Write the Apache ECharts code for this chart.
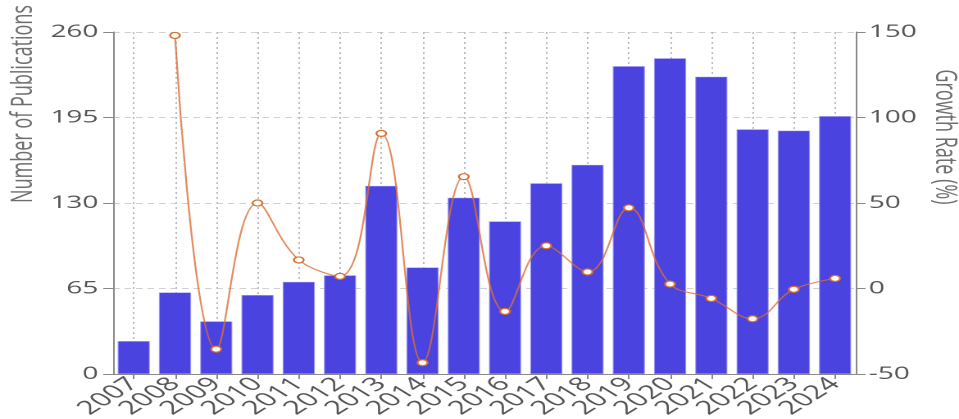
<!DOCTYPE html>
<html>
<head>
<meta charset="utf-8">
<script src="https://cdn.jsdelivr.net/npm/echarts@6/dist/echarts.min.js"></script>
<style>
html,body{margin:0;padding:0;background:#fff;overflow:hidden;}
#main{width:585px;height:419px;transform:scaleX(1.6393);transform-origin:0 0;}
</style>
</head>
<body>
<div id="main"></div>
<script>
const years = ['2007','2008','2009','2010','2011','2012','2013','2014','2015','2016','2017','2018','2019','2020','2021','2022','2023','2024'];
const publications = [25,62,40,60,70,75,143,81,134,116,145,159,234,240,226,186,185,196];
const growthRate = [null,148,-35.5,50,16.7,7.1,90.7,-43.4,65.4,-13.4,25,9.7,47.2,2.6,-5.8,-17.7,-0.5,5.9];
const leftTicks = {min:0,max:260,interval:65};
const rightTicks = {min:-50,max:150,interval:50};
const leftName = 'Number of Publications';
const rightName = 'Growth Rate (%)';

const FONT = '"Open Sans", "Noto Sans", sans-serif';
const chart = echarts.init(document.getElementById('main'), null, {renderer:'canvas', devicePixelRatio:2});
chart.setOption({
  animation:false,
  backgroundColor:'#fff',
  grid:{left:69,right:63,top:32,bottom:45,containLabel:false,outerBoundsMode:'none'},
  xAxis:{
    type:'category',
    data:years,
    boundaryGap:true,
    axisLine:{show:true,lineStyle:{color:'#888',width:1}},
    axisTick:{show:true,alignWithLabel:true,length:5,lineStyle:{color:'#888'}},
    axisLabel:{rotate:45,margin:7,fontSize:19,color:'#555',fontFamily:FONT,interval:0},
    splitLine:{show:true,alignWithLabel:true,lineStyle:{color:'#bdbdbd',type:[2,3],width:1}}
  },
  yAxis:[
    {
      type:'value',
      min:leftTicks.min,max:leftTicks.max,interval:leftTicks.interval,
      axisLine:{show:true,lineStyle:{color:'#888',width:1}},
      axisTick:{show:true,length:6,lineStyle:{color:'#888'}},
      axisLabel:{margin:9,fontSize:17,color:'#555',fontFamily:FONT},
      splitLine:{show:true,lineStyle:{color:'#d0d0d0',type:[4,3],width:1}}
    },
    {
      type:'value',
      position:'right',
      min:rightTicks.min,max:rightTicks.max,interval:rightTicks.interval,
      axisLine:{show:true,lineStyle:{color:'#888',width:1}},
      axisTick:{show:true,length:6,lineStyle:{color:'#888'}},
      axisLabel:{margin:8,fontSize:17,color:'#555',fontFamily:FONT},
      splitLine:{show:false}
    }
  ],
  graphic:[
    {type:'text',x:14.6,y:104,rotation:Math.PI/2,
     style:{text:leftName,align:'center',verticalAlign:'middle',fontSize:18,fontFamily:FONT,fill:'#6e6e6e'}},
    {type:'text',x:576,y:137,rotation:-Math.PI/2,
     style:{text:rightName,align:'center',verticalAlign:'middle',fontSize:18,fontFamily:FONT,fill:'#6e6e6e'}}
  ],
  series:[
    {
      name:leftName,
      type:'bar',
      data:publications,
      yAxisIndex:0,
      barCategoryGap:'22%',
      itemStyle:{color:'#4a43e0',borderColor:'rgba(150,145,245,0.8)',borderWidth:0.6},
      z:2
    },
    {
      name:rightName,
      type:'line',
      data:growthRate,
      yAxisIndex:1,
      smooth:0.4,
      connectNulls:false,
      symbol:'circle',
      symbolSize:6,
      lineStyle:{color:'#dc6e35',width:1.1,opacity:0.8},
      itemStyle:{color:'#fff',borderColor:'#d9702e',borderWidth:1.2},
      z:3
    }
  ]
});
</script>
</body>
</html>
